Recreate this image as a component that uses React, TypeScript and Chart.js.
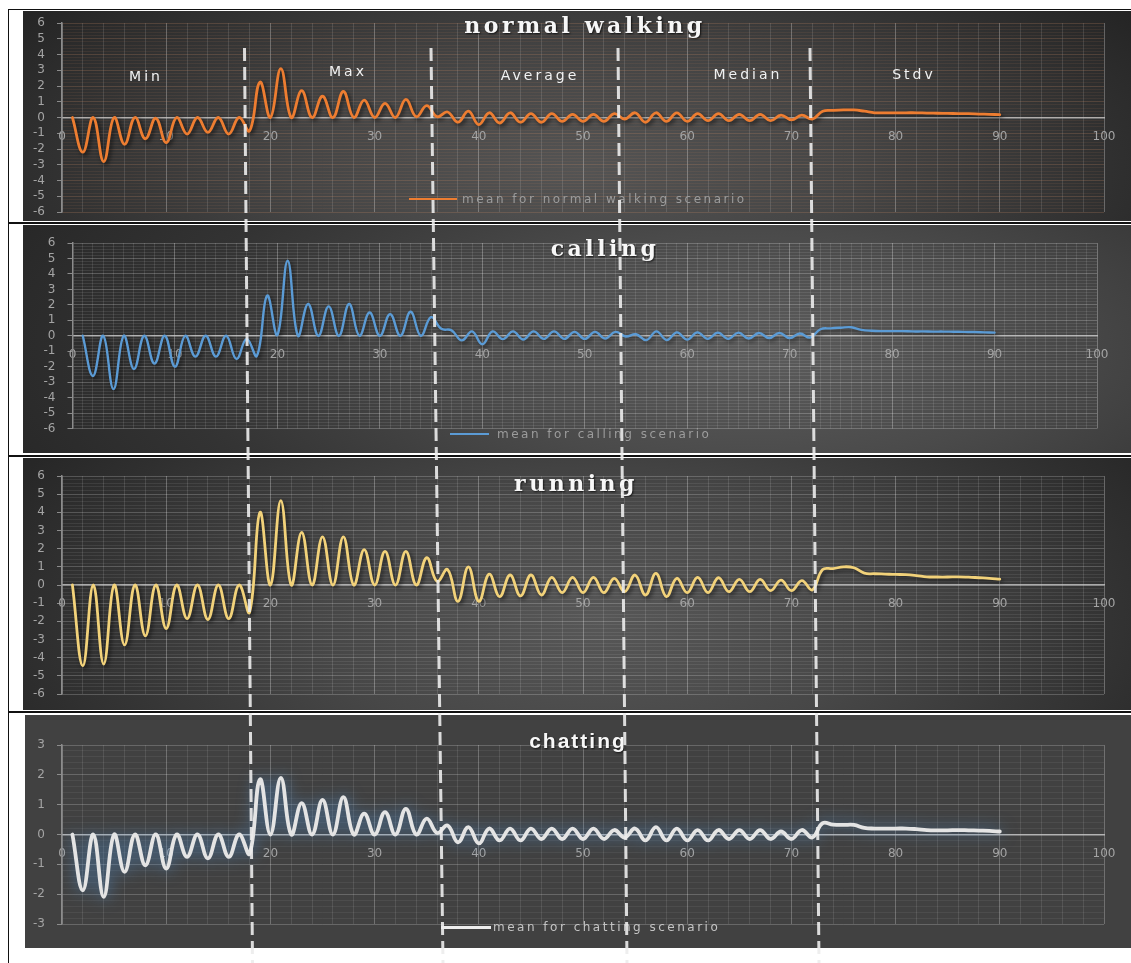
import React, { useEffect, useRef } from "react";
import { Chart, registerables } from "chart.js";
Chart.register(...registerables);

// x positions of the 90 samples (5 sections of 18: Min, Max, Average, Median, Stdv)
const xPositions = Array.from({ length: 90 }, (_, i) => i + 1);

const sectionLabels = ["Min", "Max", "Average", "Median", "Stdv"];
const panelTitles = ["normal walking", "calling", "running", "chatting"];
const legendLabels = [
  "mean for normal walking scenario",
  "mean for calling scenario",
  "",
  "mean for chatting scenario",
];

const normalWalking = [
  0, -2.2, 0, -2.8, 0, -1.7, 0, -1.35, -0.05, -1.6, 0, -1.05, 0, -0.95, 0, -1.05, 0, -0.85,
  2.25, 0, 3.1, 0, 1.7, 0, 1.35, 0, 1.65, 0, 1.1, 0, 0.9, 0, 1.15, 0.05, 0.75, 0.05,
  0.35, -0.3, 0.4, -0.45, 0.3, -0.35, 0.3, -0.3, 0.25, -0.3, 0.25, -0.25, 0.2, -0.25, 0.2, -0.25, 0.25, -0.1,
  0.3, -0.3, 0.3, -0.25, 0.3, -0.25, 0.25, -0.2, 0.25, -0.2, 0.2, -0.2, 0.2, -0.2, 0.15, -0.15, 0.15, -0.1,
  0.4, 0.45, 0.48, 0.48, 0.4, 0.3, 0.3, 0.3, 0.3, 0.3, 0.28, 0.27, 0.26, 0.25, 0.24, 0.22, 0.2, 0.18,
];

const calling = [
  0, -2.6, 0, -3.45, 0, -2.15, 0, -1.8, 0, -2.0, 0, -1.35, 0, -1.35, 0, -1.5, -0.2, -1.3,
  2.6, 0.05, 4.85, 0, 2.05, 0, 1.9, 0, 2.05, 0, 1.5, 0, 1.4, 0, 1.55, 0, 1.2, 0.45,
  0.35, -0.3, 0.28, -0.55, 0.28, -0.22, 0.28, -0.24, 0.28, -0.2, 0.28, -0.2, 0.25, -0.2, 0.25, -0.18, 0.25, -0.05,
  0.1, -0.28, 0.28, -0.28, 0.22, -0.25, 0.22, -0.2, 0.2, -0.2, 0.2, -0.18, 0.18, -0.15, 0.18, -0.15, 0.15, -0.12,
  0.42, 0.48, 0.52, 0.55, 0.38, 0.32, 0.3, 0.3, 0.3, 0.28, 0.28, 0.27, 0.27, 0.26, 0.25, 0.24, 0.22, 0.2,
];

const running = [
  0, -4.45, 0, -4.35, 0, -3.3, 0, -2.8, 0, -2.4, 0, -1.85, 0, -1.9, 0, -1.85, 0, -1.5,
  4.0, 0, 4.65, 0, 2.9, 0, 2.65, 0, 2.65, 0, 1.95, 0, 1.85, 0, 1.85, 0, 1.5, 0.2,
  0.85, -0.9, 1.0, -0.9, 0.6, -0.64, 0.55, -0.6, 0.55, -0.55, 0.42, -0.42, 0.42, -0.42, 0.42, -0.42, 0.37, -0.37,
  0.55, -0.55, 0.64, -0.64, 0.37, -0.42, 0.42, -0.42, 0.4, -0.37, 0.31, -0.37, 0.31, -0.31, 0.27, -0.31, 0.24, -0.27,
  0.85, 0.9, 1.0, 0.95, 0.65, 0.62, 0.6, 0.58, 0.57, 0.52, 0.45, 0.44, 0.44, 0.45, 0.43, 0.4, 0.37, 0.32,
];

const chatting = [
  0, -1.87, 0, -2.09, 0, -1.25, 0, -1.03, 0, -1.14, 0, -0.75, 0, -0.8, 0, -0.75, 0, -0.64,
  1.85, 0, 1.9, 0, 1.05, 0, 1.16, 0, 1.25, 0, 0.7, 0, 0.75, 0, 0.86, 0, 0.53, 0.05,
  0.3, -0.26, 0.25, -0.3, 0.2, -0.2, 0.2, -0.2, 0.2, -0.15, 0.2, -0.15, 0.2, -0.15, 0.2, -0.15, 0.15, -0.1,
  0.2, -0.2, 0.25, -0.2, 0.2, -0.2, 0.15, -0.2, 0.15, -0.15, 0.15, -0.15, 0.15, -0.15, 0.1, -0.15, 0.15, -0.1,
  0.38, 0.33, 0.32, 0.32, 0.22, 0.2, 0.2, 0.2, 0.2, 0.18, 0.15, 0.14, 0.14, 0.15, 0.14, 0.13, 0.12, 0.1,
];

type Rect = { left: number; top: number; width: number; height: number };
type Plot = { left: number; top: number; right: number; bottom: number };
type PanelCfg = {
  canvas: Rect;
  plot: Plot;
  yMin: number;
  yMax: number;
  yStep: number;
  xStep: number;
  values: number[];
  label: string;
  color: string;
  lineWidth: number;
  shadow: { color: string; blur: number; ox: number; oy: number };
  hMinor: string;
  hMajor: string;
  vMinor: string;
  vMajor: string;
};

const isInt = (v: number) => Math.abs(v - Math.round(v)) < 1e-6;
const tickFont = { family: "DejaVu Sans", size: 12 };

function ChartPanel({ cfg }: { cfg: PanelCfg }) {
  const ref = useRef<HTMLCanvasElement | null>(null);
  const c = cfg.canvas;
  useEffect(() => {
    const p = cfg.plot;
    const shadowPlugin = {
      id: "lineShadow",
      beforeDatasetsDraw(chart: any) {
        const ctx = chart.ctx;
        ctx.save();
        ctx.shadowColor = cfg.shadow.color;
        ctx.shadowBlur = cfg.shadow.blur;
        ctx.shadowOffsetX = cfg.shadow.ox;
        ctx.shadowOffsetY = cfg.shadow.oy;
      },
      afterDatasetsDraw(chart: any) {
        chart.ctx.restore();
      },
    };
    const chart = new Chart(ref.current as HTMLCanvasElement, {
      type: "line",
      data: {
        datasets: [
          {
            label: cfg.label,
            data: xPositions.map((x, i) => ({ x, y: cfg.values[i] })),
            borderColor: cfg.color,
            borderWidth: cfg.lineWidth,
            pointRadius: 0,
            tension: 0.42,
            fill: false,
            borderCapStyle: "round",
            borderJoinStyle: "round",
          },
        ],
      },
      options: {
        responsive: false,
        animation: false,
        events: [],
        layout: {
          padding: {
            left: 0,
            top: p.top - c.top,
            right: c.left + c.width - p.right,
            bottom: c.top + c.height - p.bottom,
          },
        },
        plugins: {
          legend: { display: false },
          title: { display: false },
          tooltip: { enabled: false },
        },
        scales: {
          x: {
            type: "linear",
            min: 0,
            max: 100,
            position: { y: 0 },
            ticks: {
              stepSize: cfg.xStep,
              autoSkip: false,
              maxRotation: 0,
              padding: 12,
              color: "#a4a4a4",
              font: tickFont,
              callback: (v: any) => (isInt(Number(v) / 10) ? String(Math.round(Number(v))) : ""),
            },
            grid: {
              drawTicks: false,
              lineWidth: 1,
              color: (ctx: any) =>
                ctx.tick && isInt(ctx.tick.value / 10) ? cfg.vMajor : cfg.vMinor,
            },
            border: { display: true, color: "rgba(200,200,200,0.8)", width: 1.5 },
          },
          y: {
            type: "linear",
            min: cfg.yMin,
            max: cfg.yMax,
            position: "left",
            afterFit: (s: any) => {
              s.width = p.left - c.left;
            },
            ticks: {
              stepSize: cfg.yStep,
              autoSkip: false,
              padding: 0,
              color: "#a4a4a4",
              font: tickFont,
              callback: (v: any) => (isInt(Number(v)) ? String(Math.round(Number(v))) : ""),
            },
            grid: {
              tickLength: 17,
              tickBorderDash: [0, 12, 5, 0],
              lineWidth: 1,
              color: (ctx: any) => (ctx.tick && isInt(ctx.tick.value) ? cfg.hMajor : cfg.hMinor),
              tickColor: (ctx: any) =>
                ctx.tick && isInt(ctx.tick.value) ? "#8c8c8c" : "rgba(0,0,0,0)",
            },
            border: { display: true, color: "#8c8c8c", width: 1.5 },
          },
        },
      } as any,
      plugins: [shadowPlugin],
    });
    return () => chart.destroy();
  }, []);
  return (
    <canvas
      ref={ref}
      width={c.width}
      height={c.height}
      style={{ position: "absolute", left: c.left, top: c.top, width: c.width, height: c.height }}
    />
  );
}

const panels: PanelCfg[] = [
  {
    canvas: { left: 23, top: 11, width: 1108, height: 210 },
    plot: { left: 62, top: 23, right: 1104, bottom: 212 },
    yMin: -6, yMax: 6, yStep: 0.2, xStep: 2,
    values: normalWalking, label: legendLabels[0],
    color: "#ED7D31", lineWidth: 2.8,
    shadow: { color: "rgba(0,0,0,0.65)", blur: 4, ox: 2, oy: 2 },
    hMinor: "rgba(190,130,90,0.11)", hMajor: "rgba(200,140,100,0.24)",
    vMinor: "rgba(255,255,255,0.12)", vMajor: "rgba(255,255,255,0.28)",
  },
  {
    canvas: { left: 23, top: 225, width: 1108, height: 228 },
    plot: { left: 72.5, top: 243, right: 1097, bottom: 428.5 },
    yMin: -6, yMax: 6, yStep: 0.2, xStep: 1,
    values: calling, label: legendLabels[1],
    color: "#5B9BD5", lineWidth: 2.4,
    shadow: { color: "rgba(0,0,0,0.55)", blur: 4, ox: 2, oy: 2 },
    hMinor: "rgba(255,255,255,0.09)", hMajor: "rgba(255,255,255,0.22)",
    vMinor: "rgba(255,255,255,0.1)", vMajor: "rgba(255,255,255,0.28)",
  },
  {
    canvas: { left: 23, top: 458, width: 1108, height: 252 },
    plot: { left: 62, top: 476, right: 1104, bottom: 694 },
    yMin: -6, yMax: 6, yStep: 0.2, xStep: 2,
    values: running, label: "mean for running scenario",
    color: "#F2D27A", lineWidth: 2.8,
    shadow: { color: "rgba(0,0,0,0.6)", blur: 4, ox: 2, oy: 2 },
    hMinor: "rgba(255,255,255,0.08)", hMajor: "rgba(255,255,255,0.2)",
    vMinor: "rgba(255,255,255,0.12)", vMajor: "rgba(255,255,255,0.28)",
  },
  {
    canvas: { left: 25, top: 715, width: 1106, height: 233 },
    plot: { left: 62, top: 745, right: 1104, bottom: 924 },
    yMin: -3, yMax: 3, yStep: 0.2, xStep: 2,
    values: chatting, label: legendLabels[3],
    color: "#E4E4E4", lineWidth: 3.8,
    shadow: { color: "rgba(80,140,200,0.85)", blur: 16, ox: 0, oy: 0 },
    hMinor: "rgba(255,255,255,0.06)", hMajor: "rgba(255,255,255,0.2)",
    vMinor: "rgba(255,255,255,0.1)", vMajor: "rgba(255,255,255,0.25)",
  },
];

const backgrounds = [
  "radial-gradient(ellipse 72% 150% at 50% 75%, #545454 0%, #454545 35%, #2e2e2e 70%, #1b1b1b 100%)",
  "radial-gradient(ellipse 75% 150% at 66% 55%, #5c5c5c 0%, #4a4a4a 35%, #333 70%, #262626 100%)",
  "radial-gradient(ellipse 72% 150% at 52% 65%, #575757 0%, #474747 35%, #2f2f2f 70%, #1c1c1c 100%)",
  "#414141",
];

const boxes = [
  { top: 9, height: 214 },
  { top: 223, height: 233 },
  { top: 456, height: 256 },
  { top: 712, height: 260 },
];

// separators between sections (top x, bottom x)
const separators = [
  [244.5, 252.5],
  [431, 443],
  [618, 627],
  [810, 819],
];

const sectionPos = [
  [146, 76],
  [348, 71],
  [540, 75],
  [748, 74],
  [914, 74],
];

const titlePos = [
  [585, 25],
  [605, 248],
  [576, 483],
  [578, 740],
];

const legendPos = [
  { lineL: 409, lineR: 457, textL: 462, y: 199, color: "#ED7D31", text: "#9c9c9c", lw: 2 },
  { lineL: 450, lineR: 489, textL: 497, y: 434, color: "#5B9BD5", text: "#9c9c9c", lw: 2 },
  null,
  { lineL: 441, lineR: 491, textL: 493, y: 927, color: "#EDEDED", text: "#c4c4c4", lw: 3 },
];

export default function App() {
  return (
    <div
      style={{
        position: "absolute",
        left: 0,
        top: 0,
        width: 1131,
        height: 963,
        overflow: "hidden",
        background: "#ffffff",
      }}
    >
      {boxes.map((b, i) => (
        <div
          key={"box" + i}
          style={{
            position: "absolute",
            left: 8,
            top: b.top,
            width: 1140,
            height: b.height,
            border: "1.5px solid #111",
            boxSizing: "border-box",
            background: "#fff",
          }}
        />
      ))}
      {panels.map((p, i) => (
        <div
          key={"bg" + i}
          style={{
            position: "absolute",
            left: p.canvas.left,
            top: p.canvas.top,
            width: p.canvas.width,
            height: p.canvas.height,
            background: backgrounds[i],
          }}
        />
      ))}
      {panels.map((p, i) => (
        <ChartPanel key={"ch" + i} cfg={p} />
      ))}
      {panelTitles.map((t, i) => (
        <div
          key={"t" + i}
          style={{
            position: "absolute",
            left: titlePos[i][0],
            top: titlePos[i][1],
            transform: "translate(-50%, -50%)",
            whiteSpace: "nowrap",
            color: "#f7f7f7",
            fontFamily: i === 3 ? "'Liberation Sans', sans-serif" : "'DejaVu Serif', serif",
            fontWeight: "bold",
            fontSize: i === 3 ? 21 : 22,
            letterSpacing: i === 3 ? 2 : 3.5,
            textShadow: "1px 1px 2px rgba(0,0,0,0.7)",
            lineHeight: 1,
          }}
        >
          {t}
        </div>
      ))}
      {sectionLabels.map((s, i) => (
        <div
          key={"s" + i}
          style={{
            position: "absolute",
            left: sectionPos[i][0],
            top: sectionPos[i][1],
            transform: "translate(-50%, -50%)",
            whiteSpace: "nowrap",
            color: "#f2f2f2",
            fontFamily: "'DejaVu Sans', sans-serif",
            fontSize: 14,
            letterSpacing: 3,
            lineHeight: 1,
          }}
        >
          {s}
        </div>
      ))}
      {legendPos.map((l, i) =>
        l ? (
          <React.Fragment key={"lg" + i}>
            <div
              style={{
                position: "absolute",
                left: l.lineL,
                top: l.y - l.lw / 2,
                width: l.lineR - l.lineL,
                height: l.lw,
                background: l.color,
              }}
            />
            <div
              style={{
                position: "absolute",
                left: l.textL,
                top: l.y,
                transform: "translateY(-50%)",
                whiteSpace: "nowrap",
                color: l.text,
                fontFamily: "'DejaVu Sans', sans-serif",
                fontSize: 12,
                letterSpacing: 2.5,
                lineHeight: 1,
              }}
            >
              {legendLabels[i]}
            </div>
          </React.Fragment>
        ) : null
      )}
      <svg
        width={1131}
        height={963}
        style={{ position: "absolute", left: 0, top: 0, pointerEvents: "none" }}
      >
        {separators.map((s, i) => (
          <line
            key={"sep" + i}
            x1={s[0]}
            y1={48}
            x2={s[1]}
            y2={963}
            stroke="rgba(236,236,236,0.9)"
            strokeWidth={3}
            strokeDasharray="13 6"
          />
        ))}
      </svg>
    </div>
  );
}
